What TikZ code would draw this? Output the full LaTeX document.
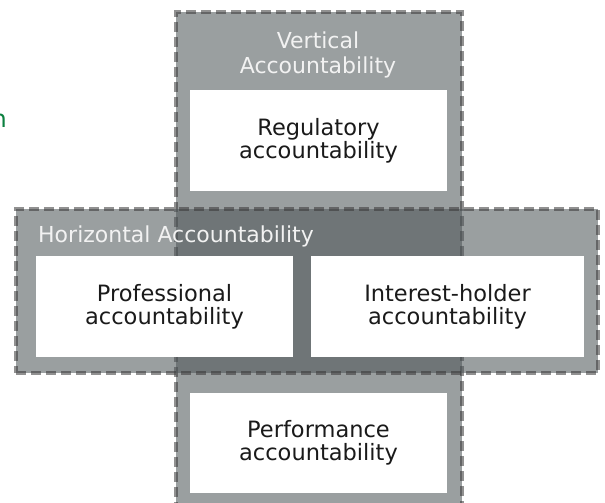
\documentclass[tikz,border=0pt]{standalone}
\usepackage{fontspec}
\setmainfont{DejaVu Sans}
\usepackage{tikz}

\definecolor{bandgray}{RGB}{78,86,88}
\definecolor{edgegray}{RGB}{55,55,55}
\definecolor{inktext}{RGB}{26,26,26}
\definecolor{labeltext}{RGB}{242,242,242}
\definecolor{cutgreen}{RGB}{12,128,64}

\tikzset{
  band/.style={fill=bandgray, fill opacity=0.57, draw=edgegray, draw opacity=0.55,
    line width=3.5pt, dash pattern=on 10pt off 5pt, inner sep=0pt},
  card/.style={fill=white, text=inktext, align=center, inner sep=0pt,
    minimum height=101pt, font=\fontsize{22.5}{23}\selectfont},
  bandlabel/.style={text=labeltext, inner sep=0pt, font=\fontsize{22}{25}\selectfont}
}

\begin{document}
\begin{tikzpicture}[x=1pt,y=-1pt]
	\useasboundingbox (0,0) rectangle (605,503);
	% the two bands
	\node[band, minimum width=286pt, minimum height=498pt] (vert) at (319,261) {};
	\node[band, minimum width=582pt, minimum height=164pt] (horz) at (307,291) {};
	% band labels
	\node[bandlabel, align=center] (vertlab) at (318,55) {Vertical\\Accountability};
	\node[bandlabel, anchor=base west] (horzlab) at (38,242) {Horizontal Accountability};
	% the four cards
	\node[card, minimum width=257pt] (regul) at (318.5,140.5) {Regulatory\\accountability};
	\node[card, minimum width=257pt] (prof) at (164.5,306.5) {Professional\\accountability};
	\node[card, minimum width=273pt] (inter) at (447.5,306.5) {Interest-holder\\accountability};
	\node[card, minimum width=257pt, minimum height=100pt] (perf) at (318.5,443) {Performance\\accountability};
	% cut text at the left edge
	\node[text=cutgreen, anchor=base east, inner sep=0pt, font=\fontsize{24}{24}\selectfont] (cut) at (7,127) {n};
\end{tikzpicture}
\end{document}
